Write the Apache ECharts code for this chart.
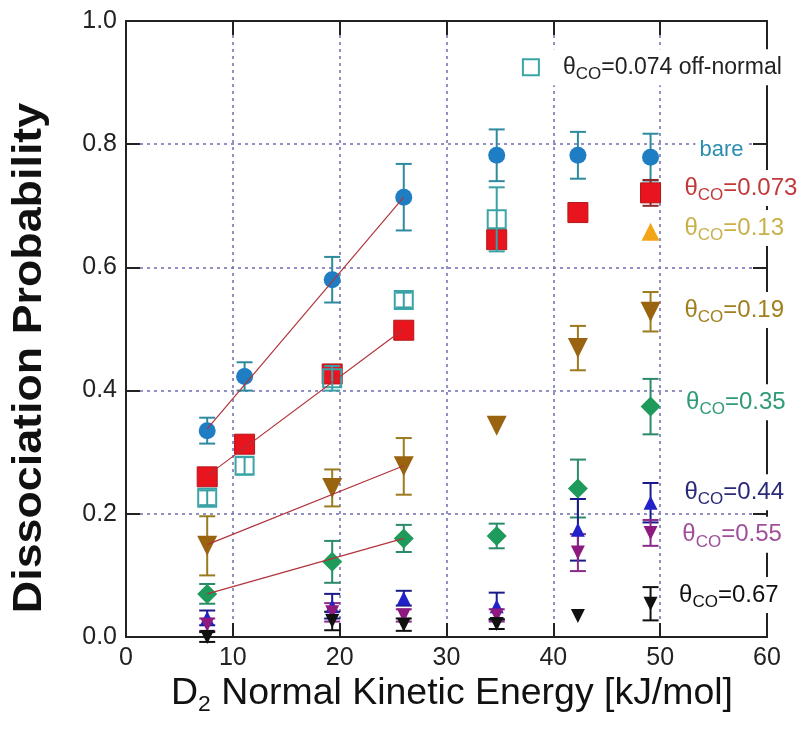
<!DOCTYPE html>
<html>
<head>
<meta charset="utf-8">
<script src="https://cdn.jsdelivr.net/npm/echarts@6/dist/echarts.min.js"></script>
<style>html,body{margin:0;padding:0;background:#fff}#c{width:809px;height:741px}</style>
</head>
<body>
<div id="c"></div>
<script>
// ---- data ----
const energies = [7.6, 11.1, 19.3, 26.0, 34.7, 42.3, 49.1];
const xTicks = [0, 10, 20, 30, 40, 50, 60];
const yTicks = [0.0, 0.2, 0.4, 0.6, 0.8, 1.0];

const bareY   = [0.335, 0.423, 0.580, 0.714, 0.782, 0.782, 0.779];
const bareErr = [0.021, 0.023, 0.037, 0.054, 0.042, 0.038, 0.038];

const co073Y   = [0.260, 0.313, 0.427, 0.498, 0.645, 0.689, 0.721];
const co073Err = [0, 0, 0, 0, 0, 0, 0.021];

const offNormY   = [0.226, 0.278, 0.420, 0.547, 0.678, null, null];
const offNormErr = [0.012, 0.014, 0.020, 0.012, 0.052, 0, 0];

const co13Y = [null, null, null, null, null, null, 0.658];

const co19Y   = [0.148, null, 0.242, 0.277, 0.343, 0.469, 0.528];
const co19Err = [0.048, 0, 0.030, 0.046, 0, 0.036, 0.032];

const co35Y   = [0.070, null, 0.122, 0.160, 0.164, 0.241, 0.374];
const co35Err = [0.016, 0, 0.034, 0.022, 0.020, 0.047, 0.045];

const co44Y   = [0.031, null, 0.050, 0.063, 0.050, 0.174, 0.218];
const co44Err = [0.012, 0, 0.020, 0.012, 0.022, 0.050, 0.032];

const co55Y   = [0.020, null, 0.040, 0.035, 0.035, 0.137, 0.169];
const co55Err = [0.010, 0, 0.015, 0.010, 0.010, 0.030, 0.021];

const co67Y   = [0.000, null, 0.026, 0.020, 0.021, 0.034, 0.054];
const co67Err = [0.008, 0, 0.015, 0.010, 0.008, 0, 0.027];

// linear fit end points (low-energy region)
const fitX = [7.6, 26.0];
const fitBare = [0.338, 0.714];
const fitCo073 = [0.262, 0.500];
const fitCo19 = [0.150, 0.278];
const fitCo35 = [0.070, 0.160];

// annotation labels: [x, y] in data units
const labelTexts = ['bare', '0.073', '0.13', '0.19', '0.35', '0.44', '0.55', '0.67'];
const labelPos = [[53.3, 0.791], [51.9, 0.729], [51.9, 0.664], [51.9, 0.531], [52.05, 0.381], [51.9, 0.235], [51.7, 0.166], [51.4, 0.068]];
const labelColors = ['#2a8db0', '#c0393b', '#c8b04a', '#a0801e', '#2e9a78', '#2a2a78', '#a0509a', '#111'];
const legendText = '0.074 off-normal';
const legendTextPos = [36.6, 0.925];
const legendSymbolPos = [37.9, 0.925];

// ---- helpers ----
const FONT = "'Liberation Sans', Arial, sans-serif";
function pts(ys, errs) {
  const out = [];
  for (let i = 0; i < energies.length; i++) {
    if (ys[i] === null) continue;
    out.push([energies[i], ys[i], errs ? errs[i] : 0]);
  }
  return out;
}
function errSeries(ys, errs, color, z) {
  return {
    type: 'custom', z: z, silent: true,
    data: pts(ys, errs).filter(d => d[2] > 0),
    renderItem: function (params, api) {
      const x = api.value(0), y = api.value(1), e = api.value(2);
      const a = api.coord([x, y + e]);
      const b = api.coord([x, y - e]);
      const w = 8;
      const st = { stroke: color, lineWidth: 2 };
      return {
        type: 'group',
        children: [
          { type: 'line', shape: { x1: a[0], y1: a[1], x2: b[0], y2: b[1] }, style: st },
          { type: 'line', shape: { x1: a[0] - w, y1: a[1], x2: a[0] + w, y2: a[1] }, style: st },
          { type: 'line', shape: { x1: b[0] - w, y1: b[1], x2: b[0] + w, y2: b[1] }, style: st }
        ]
      };
    }
  };
}
function scat(ys, symbol, size, color, z, extra) {
  const s = Object.assign({
    type: 'scatter', z: z, silent: true, clip: false,
    symbol: symbol, symbolSize: size,
    itemStyle: { color: color },
    data: pts(ys).map(d => [d[0], d[1]])
  }, extra || {});
  s.itemStyle = Object.assign({ opacity: 1 }, s.itemStyle);
  return s;
}
function fitLine(ys) {
  return {
    type: 'line', z: 5, silent: true, symbol: 'none',
    lineStyle: { color: '#b0343c', width: 1.2 },
    data: fitX.map((x, i) => [x, ys[i]])
  };
}
function richFor(color, size) {
  return {
    t: { fontSize: size, color: color, fontFamily: FONT, lineHeight: 32, verticalAlign: 'middle' },
    s: { fontSize: Math.round(size * 0.72), color: color, fontFamily: FONT, lineHeight: 18, verticalAlign: 'bottom' }
  };
}

const labelData = labelTexts.map((t, i) => ({
  value: labelPos[i],
  label: {
    formatter: t === 'bare' ? '{t|bare}' : '{t|θ}{s|CO}{t|=' + t + '}',
    rich: richFor(labelColors[i], t === 'bare' ? 22 : 24)
  }
}));
labelData.push({
  value: legendTextPos,
  label: {
    formatter: '{t|θ}{s|CO}{t|=' + legendText + '}',
    rich: richFor('#222', 23),
    padding: [2, 8, 2, 46]
  }
});

const gridLine = { show: true, lineStyle: { color: '#6e6eb4', width: 1.5, type: [3, 4] } };
const axLine = { onZero: false, lineStyle: { color: '#222', width: 2 } };
const axTick = { inside: true, length: 14, lineStyle: { color: '#222', width: 2 } };

const chart = echarts.init(document.getElementById('c'), null, { renderer: 'canvas' });
chart.setOption({
  animation: false,
  backgroundColor: '#fff',
  grid: { left: 126, right: 42, top: 21, bottom: 104 },
  xAxis: [
    { type: 'value', min: xTicks[0], max: xTicks[xTicks.length - 1], interval: xTicks[1] - xTicks[0],
      position: 'bottom', axisLine: axLine, axisTick: axTick, splitLine: gridLine,
      axisLabel: { fontSize: 25, color: '#222', fontFamily: FONT, margin: 9 } },
    { type: 'value', min: xTicks[0], max: xTicks[xTicks.length - 1], interval: xTicks[1] - xTicks[0],
      position: 'top', axisLine: axLine, axisTick: axTick, splitLine: { show: false }, axisLabel: { show: false } }
  ],
  yAxis: [
    { type: 'value', min: yTicks[0], max: yTicks[yTicks.length - 1], interval: 0.2,
      position: 'left', axisLine: axLine, axisTick: axTick, splitLine: gridLine,
      axisLabel: { fontSize: 25, color: '#222', fontFamily: FONT, margin: 9, formatter: v => v.toFixed(1) } },
    { type: 'value', min: yTicks[0], max: yTicks[yTicks.length - 1], interval: 0.2,
      position: 'right', axisLine: axLine, axisTick: axTick, splitLine: { show: false }, axisLabel: { show: false } }
  ],
  graphic: [
    { type: 'text', x: 30, y: 358, rotation: Math.PI / 2, scaleX: 1.12, z: 10,
      style: { text: 'Dissociation Probability', font: 'bold 40px ' + FONT, fill: '#111', textAlign: 'center', textVerticalAlign: 'middle' } },
    { type: 'text', x: 452, y: 694, scaleX: 1.04, z: 10,
      style: { text: '{a|D}{s|2}{a| Normal Kinetic Energy [kJ/mol]}', textAlign: 'center', textVerticalAlign: 'middle',
        rich: {
          a: { fontSize: 36, fontFamily: FONT, fill: '#111', color: '#111', lineHeight: 44, verticalAlign: 'middle' },
          s: { fontSize: 22, fontFamily: FONT, fill: '#111', color: '#111', lineHeight: 22, verticalAlign: 'bottom' }
        } } }
  ],
  series: [
    errSeries(bareY, bareErr, '#2e8a9e', 2),
    scat(bareY, 'circle', 17, '#1f7dc4', 3),
    errSeries(co073Y, co073Err, '#8a2a2a', 2),
    scat(co073Y, 'rect', 20, '#e8141e', 3, { itemStyle: { color: '#e8141e', borderColor: '#b01818', borderWidth: 1 } }),
    errSeries(offNormY, offNormErr, '#3aa0a6', 4),
    scat(offNormY, 'rect', 18, 'rgba(0,0,0,0)', 4, { itemStyle: { color: 'rgba(0,0,0,0)', borderColor: '#3aa5a8', borderWidth: 2 } }),
    scat(co13Y, 'triangle', 18, '#f2a516', 3),
    errSeries(co19Y, co19Err, '#9b7a20', 2),
    scat(co19Y, 'triangle', 20, '#9a6310', 3, { symbolRotate: 180 }),
    errSeries(co35Y, co35Err, '#2a8a6a', 2),
    scat(co35Y, 'diamond', 20, '#1e9a5a', 3),
    errSeries(co44Y, co44Err, '#1a1a8a', 2),
    scat(co44Y, 'triangle', 14, '#2222c8', 3),
    errSeries(co55Y, co55Err, '#8a2a8a', 2),
    scat(co55Y, 'triangle', 14, '#8e1a80', 3, { symbolRotate: 180 }),
    errSeries(co67Y, co67Err, '#111', 2),
    scat(co67Y, 'triangle', 14, '#111', 3, { symbolRotate: 180 }),
    fitLine(fitBare),
    fitLine(fitCo073),
    fitLine(fitCo19),
    fitLine(fitCo35),
    {
      type: 'scatter', z: 6, silent: true, clip: false, symbolSize: 0,
      itemStyle: { opacity: 1 },
      data: labelData,
      label: { show: true, position: [0, 0], align: 'left', verticalAlign: 'middle',
        backgroundColor: '#fff', padding: [2, 4] }
    },
    {
      type: 'scatter', z: 7, silent: true, clip: false, symbol: 'rect', symbolSize: 16,
      itemStyle: { color: 'rgba(0,0,0,0)', borderColor: '#3aa5a8', borderWidth: 2, opacity: 1 },
      data: [legendSymbolPos]
    }
  ]
});
</script>
</body>
</html>
